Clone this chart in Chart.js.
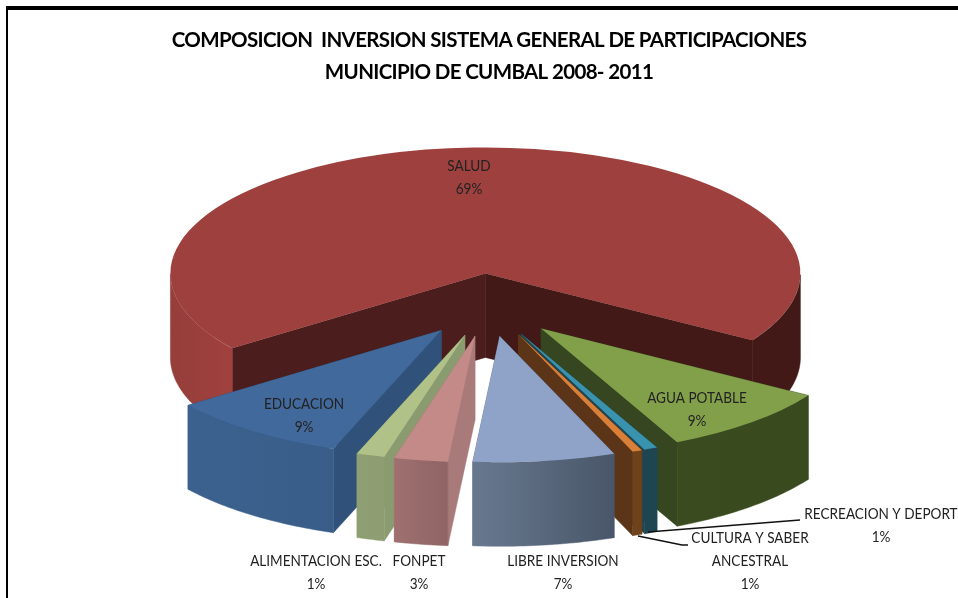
<!DOCTYPE html>
<html>
<head>
<meta charset="utf-8">
<style>
html,body{margin:0;padding:0;background:#fff;width:958px;height:598px;overflow:hidden}
#frame{position:absolute;left:6px;top:6px;right:0;bottom:0;border-top:4px solid #000;border-left:2px solid #000}
canvas{position:absolute;left:0;top:0;filter:blur(0.45px)}
</style>
<script src="https://cdn.jsdelivr.net/npm/chart.js@4"></script>
</head>
<body>
<div id="frame"></div>
<canvas id="c" width="958" height="598"></canvas>
<script>
const titleLines = ['COMPOSICION  INVERSION SISTEMA GENERAL DE PARTICIPACIONES', 'MUNICIPIO DE CUMBAL 2008- 2011'];
const categories = ['SALUD', 'AGUA POTABLE', 'RECREACION Y DEPORT', 'CULTURA Y SABER ANCESTRAL', 'LIBRE INVERSION', 'FONPET', 'ALIMENTACION ESC.', 'EDUCACION'];
const values = [69.02, 9.0, 0.69, 0.5, 7.28, 2.75, 1.44, 9.3];

const topColors = ['#9e413e', '#82a04a', '#3a93ae', '#d97f37', '#8fa3c9', '#c48a87', '#b1c289', '#41699c'];
const wallColors = [
  [['#963e3a', '#a0413e'], ['#421917', '#421917']],
  [['#3a4b20', '#394a1f']],
  [['#1e4652', '#1e4652']],
  [['#6e421b', '#6e421b']],
  [['#68798f', '#495669']],
  [['#9f7070', '#8f6464']],
  [['#8f9f74', '#8e9e72']],
  [['#3b628f', '#395d88']]
];
const faceColors = [
  ['#4b1d1c', '#421917'],
  ['#364620', '#364620'],
  ['#1e4652', '#1e4652'],
  ['#5c3518', '#5c3518'],
  ['#495669', '#68798f'],
  ['#a87a7a', '#a87a7a'],
  ['#8b9b70', '#8b9b70'],
  ['#30527a', '#30527a']
];
const scene = {cx: 488.5, cy: 305, radius: 315, squash: 0.4, explode: 79, depth: 84, rotation: 233.5};
const labelLines = [['SALUD'], ['AGUA POTABLE'], ['RECREACION Y DEPORT'], ['CULTURA Y SABER', 'ANCESTRAL'], ['LIBRE INVERSION'], ['FONPET'], ['ALIMENTACION ESC.'], ['EDUCACION']];
const labelCentres = [[469, 166], [697, 398], [881, 514], [750, 538], [563, 561], [419, 561], [316, 561], [304, 404]];
const leaders = [[[648, 532], [800, 520]], [[638, 536], [682, 545], [688, 545]]];
const labelSqueeze = 0.875;

const pie3d = {
  id: 'pie3d',
  beforeDraw(chart) {
    chart.ctx.letterSpacing = '-0.65px';
  },
  beforeDatasetDraw(chart) {
    const ctx = chart.ctx, arcs = chart.getDatasetMeta(0).data;
    const {cx, cy, radius: R, squash: q, explode: ex, depth: d} = scene;
    const items = arcs.map((arc, i) => {
      const mid = (arc.startAngle + arc.endAngle) / 2;
      const ox = cx + Math.cos(mid) * ex, oy = cy + Math.sin(mid) * ex * q;
      const away = Math.abs(Math.atan2(Math.cos(mid), Math.sin(mid)));
      return {arc, i, ox, oy, away};
    }).sort((a, b) => b.away - a.away);

    for (const {arc, i, ox, oy} of items) {
      const P = (a, dz = 0) => [ox + R * Math.cos(a), oy + R * q * Math.sin(a) + dz];
      const poly = (pts, fill) => {
        ctx.beginPath();
        pts.forEach((p, n) => n ? ctx.lineTo(p[0], p[1]) : ctx.moveTo(p[0], p[1]));
        ctx.closePath();
        ctx.fillStyle = fill; ctx.strokeStyle = fill; ctx.lineWidth = 0.5;
        ctx.fill(); ctx.stroke();
      };
      const faces = [[arc.startAngle, faceColors[i][0]], [arc.endAngle, faceColors[i][1]]]
        .sort((a, b) => P(a[0])[1] - P(b[0])[1]);
      for (const [a, col] of faces) {
        poly([[ox, oy], P(a), P(a, d), [ox, oy + d]], col);
      }
      const ranges = [];
      let cur = null;
      const steps = Math.max(8, Math.ceil((arc.endAngle - arc.startAngle) * 60));
      for (let s = 0; s <= steps; s++) {
        const a = arc.startAngle + (arc.endAngle - arc.startAngle) * s / steps;
        if (Math.sin(a) >= -0.001) { if (!cur) { cur = []; ranges.push(cur); } cur.push(a); } else cur = null;
      }
      ranges.forEach((rng, n) => {
        if (rng.length < 2) return;
        const top = rng.map(a => P(a)), bottom = rng.map(a => P(a, d)).reverse();
        const xs = top.map(p => p[0]);
        const g = ctx.createLinearGradient(Math.min(...xs), 0, Math.max(...xs), 0);
        const cols = wallColors[i][n] || wallColors[i][0];
        g.addColorStop(0, cols[0]); g.addColorStop(1, cols[1]);
        poly(top.concat(bottom), g);
      });
      ctx.save();
      const k = R / arc.outerRadius;
      ctx.translate(ox, oy);
      ctx.scale(k, k * q);
      ctx.translate(-arc.x, -arc.y);
      arc.draw(ctx);
      ctx.restore();
    }
    return false;
  },
  afterDraw(chart) {
    const ctx = chart.ctx;
    ctx.save();
    ctx.letterSpacing = '0px';
    ctx.strokeStyle = '#111'; ctx.lineWidth = 1.4;
    for (const line of leaders) {
      ctx.beginPath();
      line.forEach((p, n) => n ? ctx.lineTo(p[0], p[1]) : ctx.moveTo(p[0], p[1]));
      ctx.stroke();
    }
    ctx.font = '15.5px Lato';
    ctx.textAlign = 'center'; ctx.textBaseline = 'middle';
    ctx.fillStyle = '#222';
    categories.forEach((_, i) => {
      const lines = labelLines[i].concat([Math.round(values[i]) + '%']);
      lines.forEach((t, n) => {
        ctx.save();
        ctx.translate(labelCentres[i][0], labelCentres[i][1] + n * 23);
        ctx.scale(labelSqueeze, 1);
        ctx.fillText(t, 0, 0);
        ctx.restore();
      });
    });
    ctx.restore();
  }
};

new Chart(document.getElementById('c'), {
  type: 'pie',
  data: {
    labels: categories,
    datasets: [{data: values, backgroundColor: topColors, borderWidth: 0, radius: scene.radius}]
  },
  options: {
    responsive: false,
    animation: false,
    rotation: scene.rotation,
    layout: {padding: {left: 20, top: 24}},
    plugins: {
      legend: {display: false},
      tooltip: {enabled: false},
      title: {
        display: true,
        text: titleLines,
        color: '#000',
        font: {family: 'Lato', size: 20.5, weight: 'bold', lineHeight: 1.56},
        padding: 0
      }
    }
  },
  plugins: [pie3d]
});
</script>
</body>
</html>
